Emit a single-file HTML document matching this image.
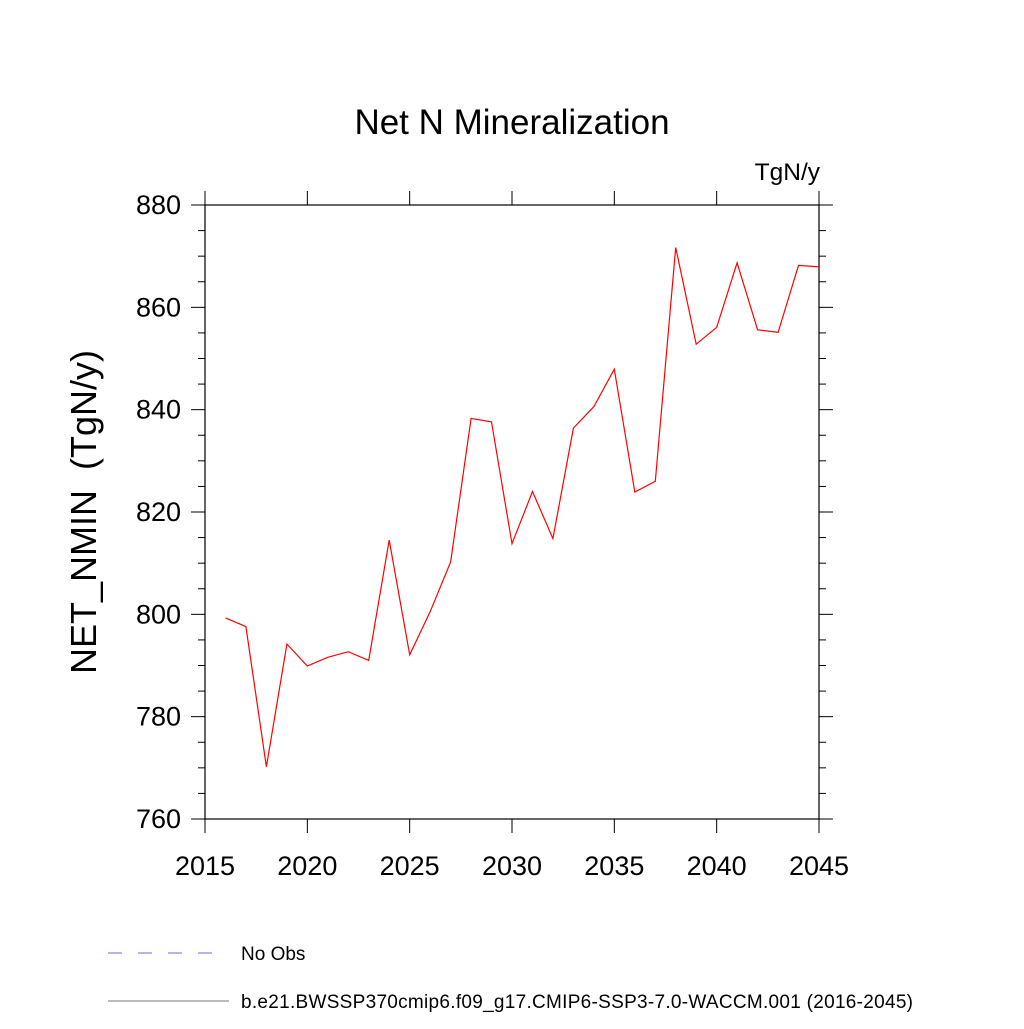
<!DOCTYPE html>
<html><head><meta charset="utf-8"><style>
html,body{margin:0;padding:0;background:#fff;}
svg text{font-family:"Liberation Sans",sans-serif;white-space:pre;}
</style></head><body>
<svg id="chart" width="1024" height="1024" viewBox="0 0 1024 1024" xmlns="http://www.w3.org/2000/svg" xml:space="preserve">
<rect width="1024" height="1024" fill="#fff"/>
<text x="512" y="134" font-size="35" text-anchor="middle">Net N Mineralization</text>
<text x="820" y="180" font-size="24.5" text-anchor="end">TgN/y</text>
<text transform="translate(96,512) rotate(-90)" font-size="36" text-anchor="middle">NET_NMIN  (TgN/y)</text>
<g id="axes"></g>
<polyline id="series-line" fill="none" stroke="#ff0000" stroke-width="1.2"/>
<g>
<line x1="108" y1="953" x2="216" y2="953" stroke="#6666ff" stroke-width="1" stroke-dasharray="14,16"/>
<text x="241" y="960" font-size="19">No Obs</text>
<line x1="108" y1="1001" x2="229" y2="1001" stroke="#777" stroke-width="1"/>
<text x="241" y="1008" font-size="19" textLength="672">b.e21.BWSSP370cmip6.f09_g17.CMIP6-SSP3-7.0-WACCM.001 (2016-2045)</text>
</g>
</svg>
<script>
const years = [2016,2017,2018,2019,2020,2021,2022,2023,2024,2025,2026,2027,2028,2029,2030,2031,2032,2033,2034,2035,2036,2037,2038,2039,2040,2041,2042,2043,2044,2045];
const values = [799.3,797.6,770.2,794.2,789.9,791.6,792.7,791.0,814.5,792.1,800.5,810.2,838.3,837.6,813.8,824.0,814.8,836.4,840.6,847.9,823.9,826.0,871.7,852.8,856.1,868.7,855.6,855.1,868.2,867.9];
const xTicks = [2015,2020,2025,2030,2035,2040,2045];
const yTicks = [760,780,800,820,840,860,880];
const X0=205,X1=819,Y0=819,Y1=205;
const xMin=2015,xMax=2045,yMin=760,yMax=880;
function sx(v){return X0+(v-xMin)/(xMax-xMin)*(X1-X0);}
function sy(v){return Y0-(v-yMin)/(yMax-yMin)*(Y0-Y1);}
const NS="http://www.w3.org/2000/svg";
const g=document.getElementById('axes');
function ln(x1,y1,x2,y2,name){const l=document.createElementNS(NS,'line');l.setAttribute('x1',x1);l.setAttribute('y1',y1);l.setAttribute('x2',x2);l.setAttribute('y2',y2);l.setAttribute('stroke','#000');l.setAttribute('stroke-width','1');


g.appendChild(l);return l;}
const fr=document.createElementNS(NS,'rect');
fr.setAttribute('x',X0);fr.setAttribute('y',Y1);fr.setAttribute('width',X1-X0);fr.setAttribute('height',Y0-Y1);fr.setAttribute('fill','none');fr.setAttribute('stroke','#000');fr.setAttribute('stroke-width','1.2');


g.appendChild(fr);
xTicks.forEach(t=>{const x=sx(t);ln(x,Y0,x,Y0+14,'x-tick');ln(x,Y1,x,Y1-14,'x-tick-top');
const tx=document.createElementNS(NS,'text');tx.setAttribute('x',x);tx.setAttribute('y',Y0+56);tx.setAttribute('font-size','27');tx.setAttribute('text-anchor','middle');tx.textContent=t;


g.appendChild(tx);});
for(let v=yMin;v<=yMax;v+=5){const y=sy(v);const major=(v-yMin)%20===0;const L=major?14:7;ln(X0-L,y,X0,y,'y-tick');ln(X1,y,X1+L,y,'y-tick-right');
if(major){const tx=document.createElementNS(NS,'text');tx.setAttribute('x',X0-24);tx.setAttribute('y',y+9);tx.setAttribute('font-size','27');tx.setAttribute('text-anchor','end');tx.textContent=v;


g.appendChild(tx);}}
document.getElementById('series-line').setAttribute('points',years.map((y,i)=>sx(y).toFixed(1)+','+sy(values[i]).toFixed(1)).join(' '));
</script>
</body></html>
